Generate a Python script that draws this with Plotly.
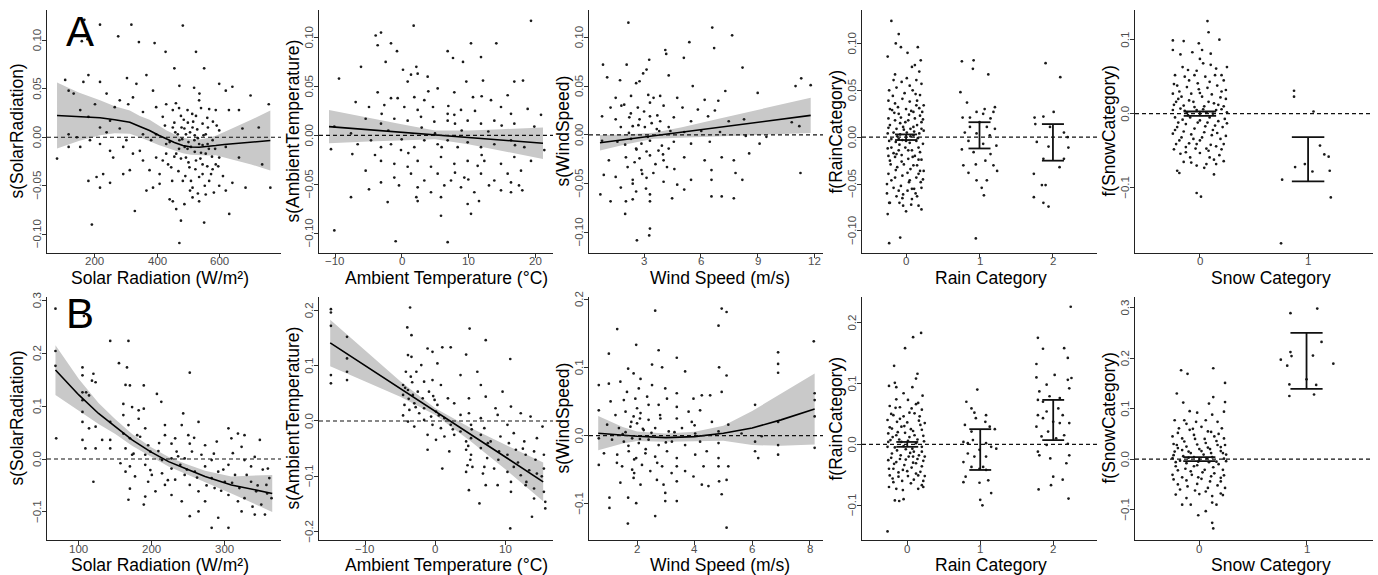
import plotly.graph_objects as go

W, H = 1378, 575
FONT = "Liberation Sans, Arial, Helvetica, sans-serif"

# ---------------- DATA ----------------
# Row A, panel 1: Solar Radiation
A1_pts = [(168,.121),(218,.116),(318,.116),(482,.115),(178,.101),(160,.099),(276,.104),(392,.097),(342,.098),(427,.088),(524,.088),(455,.071),(550,.071),(181,.064),(366,.064),(107,.059),(165,.057),(218,.057),(304,.061),(334,.055),(471,.053),(518,.051),(598,.055),(619,.048),(118,.048),(239,.045),(387,.048),(281,.038),(323,.041),(265,.031),(308,.034),(355,.026),(397,.031),(429,.034),(534,.038),(566,.029),(587,.028),(629,.028),(698,.043),(134,.045),(202,.034),(155,.028),(181,.021),(218,.010),(250,.017),(118,.003),(144,.0),(186,-.003),(239,.005),(302,-.003),(118,-.010),(155,-.010),(81,-.022),(250,-.014),(292,-.010),(345,-.014),(260,-.021),(323,-.017),(355,-.024),(397,-.021),(313,-.034),(292,-.038),(207,-.041),(181,-.045),(218,-.052),(376,-.034),(408,-.038),(445,-.031),(482,-.045),(513,-.052),(534,-.041),(566,-.045),(598,-.050),(640,-.047),(682,-.052),(761,-.052),(587,-.028),(661,-.021),(735,-.028),(672,.009),(545,.014),(513,.010),(492,.003),(450,.010),(418,.021),(471,-.003),(508,-.010),(534,-.007),(555,-.017),(577,-.003),(619,-.010),(429,-.007),(461,-.017),(492,-.021),(524,-.024),(440,-.064),(461,-.074),(450,-.066),(487,-.069),(513,-.062),(555,-.059),(581,-.057),(619,-.055),(534,-.066),(476,-.086),(550,-.088),(630,-.079),(471,-.109),(329,-.076),(192,-.090),(408,-.048),(387,-.052),(366,-.055),(250,-.047),(228,-.038),(661,.028),(640,.052),(756,.034),(724,.010),(476,.022),(497,.028),(524,.022),(450,.028),(397,.003),(381,-.003),(429,-.017),(476,-.022),(503,-.031),(545,-.028),(577,-.033),(598,-.021),(519,-.003),(555,.003),(598,.007),(497,-.012),(466,.003),(540,-.016),(487,.009),(561,-.007),(418,-.024),(355,.003),(281,.009),(218,-.007),(440,-.005),(455,.015),(470,-.012),(485,.018),(500,-.026),(515,.016),(530,-.001),(545,-.038),(560,.020),(575,-.020),(590,.012),(505,.005),(520,-.015),(460,.035),(535,.045),(490,-.040),(565,-.012),(610,-.040)]
A1_more = [(425,.012),(435,-.028),(448,-.045),(458,.005),(468,-.035),(478,.010),(488,-.010),(498,.015),(508,-.045),(512,.024),(522,-.033),(528,.008),(538,-.022),(548,.002),(552,-.050),(562,.010),(572,-.038),(578,.016),(585,-.012),(595,-.030),(505,-.055),(470,.030),(540,.030),(560,-.030),(530,-.058),(455,-.020),(480,-.002),(520,.002),(500,-.005),(545,-.008)]
A1_cx = [81, 150, 218, 265, 313, 345, 376, 405, 429, 455, 482, 508, 534, 560, 587, 614, 640, 700, 761]
A1_cy = [0.0224, 0.021, 0.020, 0.018, 0.0155, 0.011, 0.0069, 0.002, -0.0017, -0.0055, -0.0086, -0.010, -0.0103, -0.0098, -0.0086, -0.0075, -0.0069, -0.005, -0.0034]
A1_se = [0.034, 0.025, 0.018, 0.014, 0.012, 0.011, 0.011, 0.010, 0.009, 0.0085, 0.008, 0.008, 0.008, 0.009, 0.010, 0.013, 0.016, 0.023, 0.031]

# Row A, panel 2: Ambient Temperature
A2_pts = [(19.4,.117),(1.8,.112),(-3.9,.102),(-3.1,.105),(-1.6,.094),(-0.7,.086),(-3.6,.092),(-2.4,.075),(6.9,.086),(7.7,.079),(9.2,.075),(10.4,.094),(14.2,.094),(11.9,.080),(-6.1,.070),(2.2,.070),(0.2,.067),(-9.4,.058),(1.4,.062),(3.9,.060),(0.9,.055),(2.4,.063),(12.2,.056),(16.9,.055),(18.2,.056),(9.7,.055),(5.4,.048),(7.9,.044),(10.7,.039),(13.4,.036),(15.9,.041),(-3.6,.044),(-1.6,.038),(-0.6,.038),(-6.9,.034),(1.9,.039),(3.4,.036),(-4.9,.029),(-2.6,.031),(0.4,.029),(2.4,.026),(4.7,.029),(6.9,.022),(8.9,.026),(14.9,.029),(16.4,.022),(18.9,.027),(20.9,.021),(-10.1,.009),(-7.6,.002),(-5.4,.017),(-3.1,.012),(-1.1,.017),(0.9,.015),(2.9,.019),(4.9,.014),(6.9,.015),(7.9,.021),(9.9,.015),(11.9,.012),(13.9,.015),(16.9,.012),(19.9,.009),(-10.6,-.014),(-7.4,-.019),(-6.6,-.009),(-4.6,-.005),(-3.1,-.012),(-1.6,-.009),(-0.1,-.015),(1.9,-.012),(3.4,-.005),(5.4,-.009),(6.9,-.005),(8.4,-.012),(9.9,-.007),(11.9,-.012),(13.9,-.009),(16.4,-.005),(18.4,-.012),(21.4,-.015),(-3.1,-.026),(-1.1,-.029),(0.9,-.032),(2.4,-.026),(4.4,-.032),(5.9,-.022),(7.9,-.029),(9.9,-.026),(11.4,-.031),(12.4,-.026),(14.9,-.029),(16.9,-.022),(19.4,-.026),(-5.4,-.036),(-1.1,-.043),(1.4,-.039),(3.4,-.046),(5.4,-.039),(7.4,-.046),(9.4,-.043),(11.9,-.039),(13.9,-.046),(15.9,-.039),(17.9,-.036),(-4.9,-.055),(-3.1,-.048),(-0.4,-.051),(2.4,-.053),(4.4,-.058),(6.4,-.051),(8.9,-.053),(10.9,-.058),(13.1,-.051),(14.9,-.056),(16.4,-.048),(17.6,-.051),(18.1,-.056),(-7.6,-.063),(-2.1,-.068),(2.2,-.063),(2.4,-.067),(5.9,-.063),(11.6,-.067),(16.4,-.058),(5.9,-.082),(10.4,-.080),(-10.1,-.097),(-0.9,-.108),(6.9,-.109),(9.9,-.070)]
A2_more = [(-4,-.02),(-2,.005),(1,-.018),(3,.008),(4,.045),(6,-.012),(7,.030),(8,-.038),(9,.005),(10,-.045),(11,.025),(12,-.020),(13,.004),(15,.010),(-3,.022),(0,-.004),(5,.002),(8,.012),(12,.040),(17,-.010)]
A2_cx = [-10.9, -5, 0, 5, 10, 15, 21.2]
A2_cy = [0.009, 0.0059, 0.0033, 0.0006, -0.002, -0.0046, -0.008]
A2_se = [0.017, 0.012, 0.008, 0.0045, 0.007, 0.011, 0.016]

# Row A, panel 3: Wind Speed
A3_pts = [(2.17,.115),(6.6,.110),(7.65,.102),(5.39,.095),(6.7,.089),(4.12,.087),(4.17,.083),(5.1,.079),(0.83,.072),(2.08,.072),(3.27,.077),(8.2,.069),(3.13,.067),(2.95,.063),(1.05,.059),(4.3,.061),(1.73,.056),(2.58,.053),(2.76,.055),(5.57,.050),(11.3,.058),(11.0,.050),(11.8,.051),(9.0,.043),(7.29,.045),(1.5,.038),(2.31,.040),(3.22,.041),(3.85,.040),(4.75,.038),(6.2,.036),(6.92,.035),(1.23,.028),(1.95,.031),(2.67,.028),(3.31,.033),(4.03,.030),(5.03,.028),(5.84,.026),(6.74,.025),(0.78,.019),(1.5,.016),(2.22,.018),(2.76,.016),(3.31,.019),(3.85,.014),(4.57,.018),(5.48,.014),(6.38,.019),(7.47,.014),(8.28,.016),(10.8,.013),(11.2,.009),(1.77,.008),(2.4,.009),(3.04,.008),(3.67,.006),(4.39,.004),(5.12,.003),(6.02,.004),(7.01,.003),(8.37,-.001),(9.46,-.002),(0.78,-.006),(1.59,-.007),(2.31,-.004),(2.86,-.009),(3.31,-.006),(3.94,-.011),(4.57,-.007),(5.48,-.009),(6.47,-.007),(2.58,-.014),(3.13,-.017),(3.76,-.016),(4.3,-.014),(2.04,-.023),(2.76,-.024),(3.31,-.021),(4.03,-.026),(1.14,-.026),(5.12,-.023),(6.2,-.026),(7.1,-.023),(8.55,-.019),(7.74,-.026),(2.13,-.033),(2.86,-.036),(3.49,-.039),(4.21,-.033),(0.87,-.041),(1.5,-.043),(2.4,-.046),(3.13,-.044),(4.03,-.048),(4.75,-.051),(5.48,-.046),(6.56,-.046),(7.83,-.039),(8.19,-.046),(11.26,-.039),(1.77,-.054),(2.58,-.058),(3.31,-.061),(5.12,-.056),(0.69,-.061),(2.04,-.068),(1.23,-.068),(2.4,-.066),(3.31,-.068),(6.56,-.063),(7.1,-.063),(7.74,-.065),(4.48,-.065),(2.0,-.081),(3.31,-.096),(3.27,-.103),(2.62,-.108),(6.56,-.036),(9.1,-.009)]
A3_more = [(2.2,.002),(2.5,-.028),(2.7,.010),(2.9,-.040),(3.0,.024),(3.2,-.002),(3.4,.012),(3.6,-.030),(3.8,.004),(4.0,-.020),(2.3,.022),(2.6,-.015),(3.1,-.055),(3.5,.038),(2.0,-.010),(1.8,.030),(4.3,.008),(4.6,-.035),(2.4,-.050),(3.7,.020)]
A3_cx = [0.67, 2, 3.5, 5, 7, 9, 11.8]
A3_cy = [-0.008, -0.0047, -0.0009, 0.0029, 0.0079, 0.0130, 0.020]
A3_se = [0.008, 0.005, 0.003, 0.005, 0.009, 0.013, 0.018]

# Row A, panel 4: Rain Category (jittered)
A4_pts = [(-0.20,.124),(-0.10,.110),(-0.14,.100),(-0.07,.096),(0.02,.090),(0.16,.096),(-0.25,.086),(0.20,.082),(0.08,.075),(0.12,.077),(-0.17,.061),(-0.06,.059),(0.01,.063),(0.14,.061),(0.21,.057),(-0.23,.050),(-0.13,.053),(0.09,.050),(0.19,.045),(-0.24,.039),(-0.15,.036),(-0.05,.041),(0.05,.038),(0.15,.039),(0.24,.034),(-0.19,.029),(-0.10,.025),(0.0,.030),(0.10,.027),(0.19,.023),(-0.24,.020),(-0.15,.018),(-0.07,.021),(0.03,.018),(0.12,.020),(0.21,.016),(-0.22,.013),(-0.13,.009),(-0.04,.011),(0.06,.009),(0.15,.013),(0.24,.007),(-0.25,.004),(-0.17,.005),(-0.08,.003),(0.01,.005),(0.10,.002),(0.18,.004),(-0.23,-.004),(-0.14,-.005),(-0.05,-.003),(0.05,-.006),(0.14,-.004),(0.23,-.007),(-0.20,-.011),(-0.10,-.014),(-0.01,-.011),(0.08,-.014),(0.17,-.011),(-0.24,-.020),(-0.15,-.021),(-0.06,-.019),(0.03,-.023),(0.12,-.020),(0.21,-.024),(-0.21,-.029),(-0.12,-.032),(-0.03,-.029),(0.06,-.034),(0.15,-.030),(0.24,-.036),(-0.24,-.039),(-0.15,-.043),(-0.05,-.041),(0.05,-.046),(0.14,-.043),(0.20,-.048),(-0.26,-.050),(-0.17,-.054),(-0.07,-.052),(0.02,-.057),(0.11,-.055),(0.21,-.054),(-0.13,-.063),(-0.04,-.061),(0.08,-.066),(0.15,-.063),(-0.09,-.070),(-0.04,-.073),(-0.22,-.070),(0.0,-.079),(0.17,-.073),(0.21,-.077),(-0.25,-.082),(-0.23,-.070),(-0.08,-.107),(-0.23,-.113),(0.08,-.055),(0.17,-.039),(-0.10,-.002),(0.10,.011),
          (0.76,.081),(0.92,.082),(0.91,.073),(1.12,.067),(0.74,.048),(0.83,.037),(1.21,.032),(1.19,.027),(0.96,.027),(1.05,.025),(0.87,.021),(1.07,.030),(0.77,.021),(1.15,.020),(1.00,.016),(0.87,.011),(1.10,.011),(1.21,.009),(0.80,.005),(0.96,.004),(1.14,.002),(0.85,-.004),(1.05,-.007),(1.23,-.009),(0.76,-.013),(0.92,-.016),(1.15,-.018),(1.08,-.025),(1.19,-.030),(0.78,-.030),(0.95,-.029),(1.24,-.036),(0.85,-.038),(0.96,-.046),(1.10,-.046),(1.03,-.054),(1.06,-.062),(0.95,-.108),
          (1.90,.079),(2.10,.064),(1.75,.021),(1.87,.022),(2.01,.027),(1.76,.014),(1.96,.011),(2.15,.005),(2.20,.0),(1.94,-.010),(2.21,-.011),(1.78,-.005),(1.87,-.023),(2.15,-.023),(2.09,-.032),(1.74,-.039),(1.85,-.051),(1.90,-.051),(1.74,-.064),(1.87,-.070),(1.94,-.074)]
A4_more = [(-0.22,.030),(-0.18,.044),(-0.11,.032),(-0.02,.047),(0.07,.028),(0.13,.046),(0.22,.027),(-0.24,.010),(-0.16,.026),(-0.08,.015),(0.04,.024),(0.11,.006),(0.18,.031),(0.23,.019),(-0.20,-.002),(-0.12,.001),(-0.03,.008),(0.06,.001),(0.16,-.001),(0.21,.009),(-0.25,-.012),(-0.17,-.017),(-0.09,-.008),(0.0,-.004),(0.09,-.021),(0.19,-.016),(-0.22,-.025),(-0.14,-.035),(-0.06,-.026),(0.02,-.038),(0.10,-.030),(0.17,-.024),(0.23,-.045),(-0.20,-.046),(-0.10,-.057),(0.04,-.048),(0.13,-.060),(0.19,-.036),(-0.26,-.060),(-0.05,-.065),(0.07,-.072),(-0.15,.067),(0.05,.055),(0.18,.070),(-0.01,.016),(0.14,.034),(-0.13,-.018),(0.03,-.014)]
A4_cat = [0, 1, 2]
A4_lo = [-0.003, -0.012, -0.025]
A4_hi = [0.003, 0.016, 0.014]

# Row A, panel 5: Snow Category (jittered)
A5_pts = [(0.07,.125),(0.08,.110),(-0.25,.099),(-0.15,.098),(-0.01,.095),(0.18,.100),(-0.25,.086),(-0.07,.083),(0.0,.074),(0.10,.081),(-0.18,.080),(-0.11,.059),(0.03,.068),(0.15,.061),(0.25,.063),(-0.23,.052),(-0.14,.050),(-0.05,.052),(0.05,.050),(0.14,.052),(0.22,.045),(-0.21,.038),(-0.12,.036),(-0.02,.041),(0.07,.035),(0.16,.038),(0.24,.032),(-0.25,.027),(-0.17,.023),(-0.08,.027),(0.02,.023),(0.11,.026),(0.19,.022),(-0.22,.016),(-0.15,.011),(-0.06,.016),(0.04,.010),(0.13,.014),(0.22,.010),(-0.25,.005),(-0.18,.007),(-0.12,.002),(-0.03,.005),(0.06,.002),(0.15,.005),(0.25,.002),(-0.23,-.005),(-0.16,-.008),(-0.09,-.005),(0.0,-.009),(0.09,-.005),(0.17,-.010),(0.23,-.007),(-0.21,-.018),(-0.13,-.014),(-0.05,-.020),(0.05,-.017),(0.12,-.022),(0.21,-.018),(-0.25,-.027),(-0.17,-.032),(-0.08,-.028),(0.02,-.032),(0.11,-.029),(0.19,-.034),(-0.22,-.041),(-0.13,-.045),(-0.03,-.041),(0.06,-.047),(0.15,-.044),(0.22,-.041),(-0.18,-.054),(-0.09,-.059),(0.0,-.053),(0.09,-.059),(0.18,-.056),(-0.15,-.065),(-0.03,-.070),(0.06,-.068),(0.15,-.068),(-0.21,-.077),(-0.19,-.080),(0.13,-.082),(-0.03,-.107),(0.01,-.112),
          (0.87,.031),(0.87,.023),(1.05,.003),(1.11,-.043),(1.15,-.055),(1.19,-.058),(0.88,-.072),(0.97,-.068),(1.04,-.078),(1.20,-.077),(0.76,-.089),(1.21,-.113),(0.75,-.175)]
A5_more = [(-0.24,.040),(-0.19,.030),(-0.10,.045),(-0.01,.033),(0.09,.043),(0.20,.030),(-0.20,.020),(-0.10,.018),(0.0,.028),(0.08,.016),(0.17,.012),(0.24,.020),(-0.24,.012),(-0.14,.004),(-0.05,.009),(0.03,.006),(0.12,.000),(0.20,.006),(-0.20,-.012),(-0.11,-.002),(-0.02,-.012),(0.07,-.012),(0.14,-.016),(0.25,-.013),(-0.23,-.022),(-0.15,-.024),(-0.06,-.034),(0.04,-.025),(0.16,-.026),(0.24,-.030),(-0.19,-.036),(-0.10,-.040),(0.0,-.036),(0.10,-.042),(0.20,-.048),(-0.24,-.048),(-0.13,-.052),(-0.04,-.047),(0.08,-.050),(0.13,-.062),(-0.08,-.066),(0.04,-.073),(0.22,-.064),(-0.16,.063),(0.10,.066),(-0.03,.058),(0.20,.052),(0.02,.086)]
A5_cat = [0, 1]
A5_lo = [-0.003, -0.0914]
A5_hi = [0.003, -0.0317]

# Row B, panel 1: Solar Radiation
B1_pts = [(68,.284),(107,.270),(143,.223),(168,.223),(155,.181),(166,.173),(68,.204),(68,.176),(105,.173),(120,.161),(118,.148),(123,.145),(105,.158),(110,.126),(252,.163),(105,.126),(164,.140),(170,.139),(189,.139),(207,.123),(213,.108),(105,.111),(114,.120),(105,.089),(161,.104),(173,.098),(182,.092),(189,.095),(69,.039),(105,.070),(114,.058),(123,.061),(105,.036),(109,.020),(132,.036),(123,.020),(143,.070),(143,.036),(143,.020),(161,.083),(168,.064),(161,.048),(170,.039),(164,.020),(173,.008),(182,.076),(191,.058),(184,.042),(195,.026),(191,.008),(198,.014),(218,.064),(218,.045),(227,.029),(234,.014),(243,.086),(241,.064),(250,.045),(252,.029),(255,.014),(264,.070),(273,.026),(268,.008),(289,.033),(305,.058),(309,.039),(318,.048),(323,.023),(327,.045),(348,.036),(341,.004),(311,.011),(157,-.008),(164,-.024),(170,-.014),(177,-.033),(191,-.011),(198,-.021),(195,-.043),(214,-.027),(218,-.049),(227,-.018),(232,-.039),(239,-.011),(245,-.030),(252,-.049),(259,-.024),(264,-.061),(273,-.014),(282,-.036),(286,-.055),(291,-.024),(300,-.043),(305,-.068),(314,-.030),(320,-.055),(327,-.074),(336,-.043),(343,-.061),(350,-.086),(357,-.049),(364,-.074),(361,-.036),(355,-.105),(341,-.105),(323,-.099),(291,-.111),(282,-.130),(305,-.130),(252,-.108),(191,-.071),(189,-.086),(168,-.077),(170,-.056),(120,-.043),(273,-.080),(264,-.099),(241,-.080),(227,-.068),(205,-.061),(245,.001),(227,.001),(214,-.002),(282,-.002),(305,-.011),(336,-.014),(359,-.018),(327,-.002),(209,.015),(232,.039)]
B1_more = [(175,.010),(180,.045),(200,-.030),(210,.030),(222,-.040),(236,.005),(248,-.020),(258,.040),(262,-.035),(275,-.050),(285,.010),(295,-.060),(298,-.020),(310,-.045),(318,-.080),(330,-.030),(338,-.090),(345,-.050),(352,-.020),(358,-.065)]
B1_cx = [68, 100, 127, 150, 173, 198, 223, 246, 273, 309, 365]
B1_cy = [0.168, 0.121, 0.086, 0.061, 0.036, 0.014, -0.005, -0.018, -0.033, -0.049, -0.065]
B1_se = [0.047, 0.030, 0.020, 0.014, 0.011, 0.009, 0.009, 0.009, 0.011, 0.016, 0.035]

# Row B, panel 2: Ambient Temperature
B2_pts = [(-14.9,.202),(-14.9,.196),(-14.9,.172),(-14.9,.083),(-14.9,.068),(-12.6,.152),(-12.6,.113),(-12.6,.089),(-12.6,.074),(-3.6,.205),(-4.0,.169),(-3.4,.155),(-3.9,.119),(-3.4,.116),(-1.1,.131),(-0.4,.125),(1.0,.133),(2.2,.133),(4.9,.167),(4.4,.120),(7.2,.146),(-2.0,.101),(0.3,.104),(6.0,.089),(10.7,.112),(-4.2,.089),(-3.5,.080),(-2.7,.089),(-1.6,.071),(-0.4,.074),(0.8,.065),(3.6,.083),(6.5,.065),(9.6,.053),(-4.6,.065),(-3.9,.056),(-3.2,.047),(-2.5,.053),(-1.8,.041),(-0.9,.053),(-0.1,.038),(0.3,.029),(1.8,.041),(2.7,.032),(4.8,.041),(7.2,.044),(8.6,.023),(10.8,.026),(-4.6,.047),(-4.4,.029),(-3.7,.020),(-3.0,.032),(-2.3,.014),(-1.6,.023),(-0.6,.008),(0.1,.017),(1.3,.005),(3.6,.011),(4.8,.014),(6.5,.005),(8.9,.011),(12.2,.014),(13.6,.008),(-3.9,-.001),(-3.0,-.010),(-1.6,.002),(-0.4,-.007),(0.8,-.013),(2.2,-.007),(3.6,-.019),(5.1,-.007),(7.0,-.013),(10.3,-.007),(15.3,-.010),(-1.1,-.025),(0.1,-.034),(1.3,-.028),(2.7,-.025),(4.4,-.037),(5.1,-.031),(6.5,-.025),(7.9,-.037),(9.3,-.028),(11.2,-.022),(12.7,-.037),(14.5,-.031),(-1.1,-.052),(2.0,-.055),(4.4,-.052),(5.1,-.061),(6.5,-.049),(7.4,-.067),(9.1,-.055),(10.3,-.061),(11.5,-.052),(12.9,-.061),(14.1,-.055),(15.5,-.061),(1.0,-.086),(4.6,-.080),(4.4,-.092),(5.3,-.083),(7.0,-.083),(8.4,-.086),(10.3,-.092),(11.2,-.083),(12.2,-.098),(13.4,-.089),(14.5,-.095),(15.5,-.086),(7.2,-.116),(8.9,-.116),(10.8,-.110),(12.9,-.116),(14.1,-.122),(15.5,-.128),(4.8,-.125),(6.3,-.149),(10.8,-.128),(14.1,-.140),(15.7,-.146),(15.7,-.158),(13.8,-.173),(10.7,-.194)]
B2_more = [(-4.3,.060),(-3.8,.040),(-3.3,.070),(-2.8,.025),(-0.3,.045),(0.5,.010),(2.5,-.015),(4.7,-.045),(5.0,-.070),(5.2,-.015),(6.8,-.095),(7.5,-.040),(9.0,-.070),(10.5,-.040),(11.8,-.075),(13.0,-.110),(14.3,-.070),(15.2,-.100),(12.5,-.050),(-4.6,.010)]
B2_cx = [-15, -10, -5, 0, 5, 10, 15.4]
B2_cy = [0.141, 0.100, 0.058, 0.017, -0.024, -0.065, -0.110]
B2_se = [0.042, 0.028, 0.014, 0.006, 0.012, 0.022, 0.035]

# Row B, panel 3: Wind Speed
B3_pts = [(2.63,.183),(4.94,.186),(5.11,.181),(1.31,.156),(4.83,.161),(8.14,.138),(1.97,.133),(2.75,.125),(3.38,.114),(1.02,.120),(1.69,.098),(2.52,.104),(2.87,.100),(3.67,.094),(4.85,.100),(5.11,.088),(6.9,.122),(6.9,.092),(6.9,.105),(1.88,.091),(2.12,.083),(1.42,.079),(1.02,.076),(0.67,.074),(1.65,.064),(2.52,.074),(2.98,.069),(2.06,.069),(3.38,.062),(3.96,.054),(4.25,.059),(4.54,.059),(4.19,.037),(4.94,.064),(1.08,.050),(1.54,.052),(1.94,.054),(2.35,.057),(2.75,.045),(3.04,.054),(3.38,.042),(3.79,.035),(6.1,.045),(8.17,.062),(8.17,.052),(0.67,.037),(1.25,.030),(1.6,.035),(1.88,.028),(2.12,.033),(2.4,.023),(2.81,.025),(3.38,.025),(3.9,.020),(4.6,.020),(5.17,.016),(6.9,.020),(8.17,.028),(0.96,.016),(1.37,.011),(1.77,.013),(2.0,.018),(2.23,.008),(2.63,.011),(3.1,.006),(3.56,.011),(4.02,.003),(4.83,.006),(5.63,.003),(6.33,-.001),(0.67,-.004),(1.13,-.006),(1.54,-.009),(1.83,-.004),(2.06,-.011),(2.4,-.006),(2.75,-.014),(3.21,-.009),(3.67,-.014),(4.19,-.009),(4.83,-.011),(6.1,-.009),(6.9,-.014),(8.17,-.018),(0.85,-.026),(1.31,-.028),(1.71,-.023),(1.97,-.033),(2.29,-.026),(2.63,-.031),(3.04,-.023),(3.38,-.033),(4.02,-.028),(4.42,-.023),(4.83,-.033),(6.1,-.023),(6.9,-.028),(6.21,-.033),(0.67,-.043),(1.48,-.045),(1.83,-.050),(2.17,-.043),(2.46,-.052),(2.87,-.045),(3.38,-.045),(3.67,-.052),(4.31,-.045),(4.83,-.045),(5.17,-.045),(1.42,-.069),(1.88,-.062),(2.12,-.072),(2.69,-.065),(2.92,-.072),(3.38,-.067),(3.96,-.060),(4.25,-.072),(4.48,-.074),(4.85,-.067),(5.11,-.065),(1.04,-.091),(1.04,-.106),(1.69,-.091),(1.97,-.099),(2.98,-.084),(2.98,-.096),(3.38,-.096),(4.94,-.086),(1.68,-.129),(2.63,-.118),(5.11,-.135)]
B3_more = [(1.6,.005),(1.7,-.015),(1.8,.020),(1.9,-.035),(2.0,.040),(2.1,-.005),(2.2,.010),(2.3,-.020),(2.1,.025),(1.9,-.055),(2.5,.004),(2.7,-.040),(2.8,.030),(3.0,-.010),(3.3,.005),(1.5,.002),(1.3,-.040),(2.4,.045),(3.2,-.055),(4.0,.015)]
B3_cx = [0.65, 1.5, 2, 3, 4, 5, 6, 7, 8.17]
B3_cy = [0.0035, 0.0005, -0.001, -0.003, -0.0015, 0.0035, 0.011, 0.023, 0.039]
B3_se = [0.025, 0.012, 0.007, 0.006, 0.007, 0.011, 0.025, 0.038, 0.052]

# Row B, panel 4: Rain Category (jittered)
B4_pts = [(0.19,.183),(0.08,.176),(-0.03,.158),(-0.18,.129),(0.14,.116),(0.12,.108),(-0.25,.096),(-0.17,.101),(-0.15,.094),(0.07,.094),(0.21,.080),(-0.05,.084),(-0.15,.074),(0.01,.073),(0.15,.068),(-0.24,.063),(-0.10,.061),(0.06,.059),(0.20,.057),(-0.19,.048),(-0.05,.046),(0.10,.051),(-0.27,.040),(-0.14,.037),(0.0,.036),(0.16,.039),(-0.21,.026),(-0.08,.029),(0.05,.025),(0.20,.024),(-0.26,.018),(-0.15,.015),(-0.03,.019),(0.10,.015),(0.22,.014),(-0.23,.007),(-0.11,.008),(0.01,.006),(0.14,.008),(-0.27,-.004),(-0.17,-.005),(-0.05,-.003),(0.07,-.007),(0.20,-.004),(-0.21,-.015),(-0.09,-.018),(0.04,-.014),(0.16,-.018),(-0.26,-.026),(-0.15,-.029),(-0.02,-.025),(0.12,-.031),(0.22,-.027),(-0.19,-.040),(-0.06,-.042),(0.06,-.038),(0.18,-.045),(-0.24,-.051),(-0.12,-.053),(0.01,-.052),(0.15,-.051),(-0.19,-.062),(0.05,-.064),(0.20,-.067),(-0.25,-.070),(-0.15,-.073),(0.15,-.073),(0.22,-.070),(-0.17,-.092),(-0.11,-.093),(-0.05,-.090),(-0.06,-.075),(0.08,-.020),(-0.27,-.143),
          (0.96,.090),(0.81,.070),(0.88,.059),(0.92,.052),(1.08,.048),(0.94,.043),(1.07,.037),(0.79,.032),(1.13,.029),(0.88,.021),(1.20,.025),(0.77,.004),(0.83,.002),(0.90,.007),(1.08,.002),(1.15,-.004),(1.22,-.007),(0.99,-.009),(0.83,-.015),(0.92,-.020),(1.08,-.020),(0.77,-.029),(0.88,-.037),(0.99,-.040),(1.08,-.042),(1.04,-.037),(0.80,-.053),(0.77,-.062),(1.11,-.059),(0.99,-.063),(1.15,-.080),(1.00,-.091),(1.03,-.100),
          (2.24,.226),(1.79,.175),(1.86,.157),(2.15,.158),(2.20,.142),(1.77,.132),(2.25,.109),(2.02,.114),(1.77,.110),(1.91,.098),(2.20,.106),(1.81,.087),(2.22,.092),(1.95,.079),(1.79,.073),(1.86,.070),(2.09,.076),(2.07,.059),(1.91,.054),(1.79,.048),(2.13,.048),(1.86,.043),(2.00,.037),(2.09,.035),(1.77,.029),(2.22,.035),(1.93,.021),(1.84,.013),(2.15,.015),(2.04,.010),(1.91,-.001),(2.20,.001),(1.79,-.012),(1.81,-.018),(1.96,-.023),(2.22,-.018),(2.18,-.031),(2.00,-.053),(2.13,-.058),(1.97,-.067),(1.80,-.074),(2.21,-.089)]
B4_more = [(-0.24,.028),(-0.13,.020),(-0.04,.030),(0.08,.022),(0.18,.032),(-0.20,.012),(-0.08,.004),(0.03,.012),(0.12,.002),(0.23,.005),(-0.26,.004),(-0.14,-.010),(-0.02,-.008),(0.09,-.012),(0.20,-.012),(-0.22,-.022),(-0.10,-.024),(0.02,-.020),(0.14,-.024),(0.24,-.020),(-0.18,-.032),(-0.04,-.034),(0.08,-.030),(0.20,-.036),(-0.25,-.040),(-0.12,-.046),(0.0,-.044),(0.12,-.048),(0.24,-.052),(-0.20,-.056),(-0.07,-.060),(0.09,-.058),(0.22,-.060),(-0.22,.050),(-0.10,.042),(0.03,.052),(0.17,.046),(-0.16,.060),(0.12,.066),(0.24,.035)]
B4_cat = [0, 1, 2]
B4_lo = [-0.004, -0.042, 0.007]
B4_hi = [0.004, 0.025, 0.073]

# Row B, panel 5: Snow Category (jittered)
B5_pts = [(-0.17,.176),(-0.11,.169),(0.13,.180),(0.24,.151),(-0.21,.130),(0.13,.123),(-0.15,.112),(0.24,.113),(0.09,.110),(-0.09,.095),(-0.02,.092),(0.23,.094),(-0.23,.077),(-0.14,.077),(-0.03,.074),(0.06,.077),(0.17,.074),(-0.19,.061),(-0.09,.058),(0.02,.064),(0.11,.054),(0.21,.061),(-0.25,.045),(-0.16,.041),(-0.05,.048),(0.05,.040),(0.14,.045),(0.23,.041),(-0.21,.028),(-0.12,.025),(-0.02,.029),(0.08,.023),(0.17,.028),(-0.23,.015),(-0.16,.018),(-0.08,.012),(0.02,.016),(0.11,.012),(0.20,.016),(0.25,.009),(-0.25,.002),(-0.18,-.003),(-0.10,.003),(-0.01,-.005),(0.07,.002),(0.16,-.005),(0.23,.001),(-0.22,-.014),(-0.13,-.019),(-0.05,-.014),(0.05,-.021),(0.13,-.016),(0.22,-.021),(-0.25,-.031),(-0.16,-.036),(-0.07,-.031),(0.02,-.039),(0.11,-.034),(0.20,-.037),(-0.20,-.050),(-0.11,-.054),(-0.02,-.049),(0.08,-.057),(0.17,-.052),(0.24,-.057),(-0.22,-.070),(-0.12,-.077),(0.0,-.069),(0.12,-.073),(0.22,-.071),(-0.16,-.090),(-0.08,-.090),(0.16,-.090),(0.12,-.086),(0.06,-.103),(-0.01,-.111),(0.12,-.126),(0.13,-.137),
          (1.10,.298),(0.85,.289),(1.14,.232),(0.85,.212),(0.86,.204),(1.06,.205),(0.76,.197),(1.25,.189),(0.82,.185),(1.00,.158),(0.84,.148),(1.09,.147),(0.84,.125),(1.07,.128)]
B5_more = [(-0.24,.030),(-0.14,.035),(-0.04,.040),(0.06,.032),(0.16,.036),(0.24,.028),(-0.20,.022),(-0.10,.015),(0.0,.020),(0.10,.020),(0.20,.024),(-0.24,.008),(-0.15,.006),(-0.05,.004),(0.04,.009),(0.12,.004),(0.22,.012),(-0.22,-.006),(-0.12,-.008),(-0.02,-.012),(0.09,-.006),(0.18,-.010),(0.25,-.004),(-0.20,-.022),(-0.08,-.024),(0.03,-.026),(0.14,-.028),(0.23,-.032),(-0.24,-.040),(-0.12,-.042),(-0.01,-.036),(0.10,-.044),(0.20,-.044),(-0.18,-.060),(-0.04,-.062),(0.06,-.064),(0.20,-.068),(-0.20,.052),(-0.06,.060),(0.08,.055),(0.18,.050),(-0.12,.070),(0.12,.088)]
B5_cat = [0, 1]
B5_lo = [-0.004, 0.139]
B5_hi = [0.004, 0.250]

# ---------------- LAYOUT / STYLE ----------------
COLS = [(47, 281), (319, 553), (589, 823), (862, 1097), (1135, 1373)]
ROWS = [(10, 253), (297, 540)]

panels = [
    dict(pts=A1_pts + A1_more, curve=(A1_cx, A1_cy, A1_se), xr=[49, 795], yr=[-0.1193, 0.1311],
         xt=[200, 400, 600], yt=[-0.10, -0.05, 0.0, 0.05, 0.10], yfmt="{:.2f}",
         xtitle="Solar Radiation (W/m²)", ytitle="s(SolarRadiation)"),
    dict(pts=A2_pts + A2_more, curve=(A2_cx, A2_cy, A2_se), xr=[-12.4, 22.7], yr=[-0.120, 0.128],
         xt=[-10, 0, 10, 20], yt=[-0.10, -0.05, 0.0, 0.05, 0.10], yfmt="{:.2f}",
         xtitle="Ambient Temperature (°C)", ytitle="s(AmbientTemperature)"),
    dict(pts=A3_pts + A3_more, curve=(A3_cx, A3_cy, A3_se), xr=[0.09, 12.45], yr=[-0.121, 0.128],
         xt=[3, 6, 9, 12], yt=[-0.10, -0.05, 0.0, 0.05, 0.10], yfmt="{:.2f}",
         xtitle="Wind Speed (m/s)", ytitle="s(WindSpeed)"),
    dict(pts=A4_pts + A4_more, eb=(A4_cat, A4_lo, A4_hi), xr=[-0.6, 2.6], yr=[-0.1235, 0.1357],
         xt=[0, 1, 2], yt=[-0.10, -0.05, 0.0, 0.05, 0.10], yfmt="{:.2f}",
         xtitle="Rain Category", ytitle="f(RainCategory)"),
    dict(pts=A5_pts + A5_more, eb=(A5_cat, A5_lo, A5_hi), xr=[-0.6, 1.6], yr=[-0.188, 0.140],
         xt=[0, 1], yt=[-0.1, 0.0, 0.1], yfmt="{:.1f}",
         xtitle="Snow Category", ytitle="f(SnowCategory)"),
    dict(pts=B1_pts + B1_more, curve=(B1_cx, B1_cy, B1_se), xr=[56.4, 377], yr=[-0.153, 0.306],
         xt=[100, 200, 300], yt=[-0.1, 0.0, 0.1, 0.2, 0.3], yfmt="{:.1f}",
         xtitle="Solar Radiation (W/m²)", ytitle="s(SolarRadiation)"),
    dict(pts=B2_pts + B2_more, curve=(B2_cx, B2_cy, B2_se), xr=[-16.6, 16.8], yr=[-0.215, 0.224],
         xt=[-10, 0, 10], yt=[-0.2, -0.1, 0.0, 0.1, 0.2], yfmt="{:.1f}",
         xtitle="Ambient Temperature (°C)", ytitle="s(AmbientTemperature)"),
    dict(pts=B3_pts + B3_more, curve=(B3_cx, B3_cy, B3_se), xr=[0.33, 8.46], yr=[-0.153, 0.203],
         xt=[2, 4, 6, 8], yt=[-0.1, 0.0, 0.1, 0.2], yfmt="{:.1f}",
         xtitle="Wind Speed (m/s)", ytitle="s(WindSpeed)"),
    dict(pts=B4_pts + B4_more, eb=(B4_cat, B4_lo, B4_hi), xr=[-0.62, 2.6], yr=[-0.157, 0.242],
         xt=[0, 1, 2], yt=[-0.1, 0.0, 0.1, 0.2], yfmt="{:.1f}",
         xtitle="Rain Category", ytitle="f(RainCategory)"),
    dict(pts=B5_pts + B5_more, eb=(B5_cat, B5_lo, B5_hi), xr=[-0.6, 1.62], yr=[-0.160, 0.321],
         xt=[0, 1], yt=[-0.1, 0.0, 0.1, 0.2, 0.3], yfmt="{:.1f}",
         xtitle="Snow Category", ytitle="f(SnowCategory)"),
]

YTITLE_X = [16, 292, 562, 835, 1108]
XTITLE_X = [160, 446, 720, 991, 1271]
XTITLE_Y = [278, 565]
XTICK_GAP = 8.5
YTICK_GAP = 10
CAP = 0.15
TICKFONT = dict(size=11.5, color="#4d4d4d", family=FONT)
TITLEFONT = dict(size=17.5, color="black", family=FONT)


def fmt(v, f):
    s = f.format(v)
    if s.startswith("-"):
        s = "\u2212" + s[1:]
    if s in ("\u22120.00", "\u22120.0"):
        s = s[1:]
    return s


fig = go.Figure()
layout = dict(width=W, height=H, autosize=False, margin=dict(l=0, r=0, t=0, b=0),
              paper_bgcolor="white", plot_bgcolor="white", showlegend=False,
              font=dict(family=FONT, color="black"))
shapes, annotations = [], []

for i, p in enumerate(panels):
    n = i + 1
    s = "" if n == 1 else str(n)
    xa, ya, xref, yref = "xaxis" + s, "yaxis" + s, "x" + s, "y" + s
    r, c = divmod(i, 5)
    x0, x1 = COLS[c]
    yt0, yt1 = ROWS[r]
    axis_common = dict(showgrid=False, zeroline=False, showline=True, linecolor="#222",
                       linewidth=1.1, ticks="outside", ticklen=4, tickwidth=1, tickcolor="#333",
                       showticklabels=False, mirror=False, fixedrange=True)
    layout[xa] = dict(axis_common, domain=[x0 / W, x1 / W], anchor=yref, range=p["xr"],
                      tickvals=p["xt"])
    layout[ya] = dict(axis_common, domain=[(H - yt1) / H, (H - yt0) / H], anchor=xref,
                      range=p["yr"], tickvals=p["yt"])

    # tick labels (placed close to the axis lines as in the reference)
    for v in p["xt"]:
        annotations.append(dict(text=fmt(v, "{:g}"), xref=xref, yref="paper", x=v,
                                y=1 - (yt1 + XTICK_GAP) / H, showarrow=False, xanchor="center",
                                yanchor="middle", font=TICKFONT))
    for v in p["yt"]:
        annotations.append(dict(text=fmt(v, p["yfmt"]), xref="paper", yref=yref,
                                x=(x0 - YTICK_GAP) / W, y=v, showarrow=False, textangle=-90,
                                xanchor="center", yanchor="middle", font=TICKFONT))

    # confidence band + fitted smooth
    if "curve" in p:
        cx, cy, se = p["curve"]
        up = [a + b for a, b in zip(cy, se)]
        lo = [a - b for a, b in zip(cy, se)]
        fig.add_trace(go.Scatter(x=cx + cx[::-1], y=up + lo[::-1], fill="toself",
                                 fillcolor="#c9c9c9", line=dict(width=0), mode="lines",
                                 hoverinfo="skip", xaxis=xref, yaxis=yref))

    px = [q[0] for q in p["pts"]]
    py = [q[1] for q in p["pts"]]
    fig.add_trace(go.Scatter(x=px, y=py, mode="markers",
                             marker=dict(size=2.7, color="#1a1a1a", line=dict(width=0)),
                             xaxis=xref, yaxis=yref))

    if "curve" in p:
        fig.add_trace(go.Scatter(x=cx, y=cy, mode="lines", line=dict(color="black", width=1.6),
                                 xaxis=xref, yaxis=yref))

    # error bars (category panels)
    if "eb" in p:
        cats, los, his = p["eb"]
        ex, ey = [], []
        for cat, lo_, hi_ in zip(cats, los, his):
            ex += [cat, cat, None, cat - CAP, cat + CAP, None, cat - CAP, cat + CAP, None]
            ey += [lo_, hi_, None, lo_, lo_, None, hi_, hi_, None]
        fig.add_trace(go.Scatter(x=ex, y=ey, mode="lines", line=dict(color="#111", width=1.8),
                                 xaxis=xref, yaxis=yref))

    # dashed zero reference line
    shapes.append(dict(type="line", xref=xref + " domain", x0=0, x1=1, yref=yref, y0=0, y1=0,
                       line=dict(color="#111", width=1.2, dash="4px,3px"), layer="above"))

    annotations.append(dict(text=p["ytitle"], xref="paper", yref="paper",
                            x=YTITLE_X[c] / W, y=1 - ((yt0 + yt1) / 2) / H, textangle=-90,
                            showarrow=False, xanchor="center", yanchor="middle", font=TITLEFONT))
    annotations.append(dict(text=p["xtitle"], xref="paper", yref="paper",
                            x=XTITLE_X[c] / W, y=1 - XTITLE_Y[r] / H,
                            showarrow=False, xanchor="center", yanchor="middle", font=TITLEFONT))

for letter, ly in (("A", 31), ("B", 313)):
    annotations.append(dict(text=letter, xref="paper", yref="paper", x=80 / W, y=1 - ly / H,
                            showarrow=False, xanchor="center", yanchor="middle",
                            font=dict(size=42, color="black", family=FONT)))

layout["shapes"] = shapes
layout["annotations"] = annotations
fig.update_layout(**layout)

fig.write_html("out.html", config={"displayModeBar": False},
               post_script="document.body.style.margin='0px';")
